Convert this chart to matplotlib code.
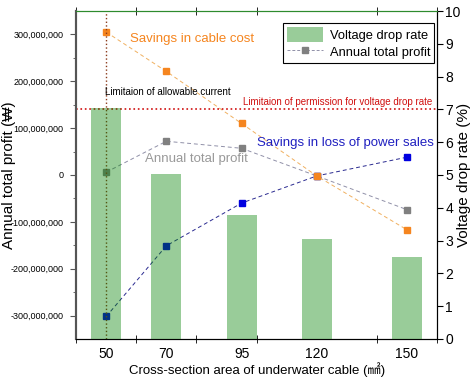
import matplotlib
matplotlib.use("Agg")
from matplotlib import pyplot as plt
from matplotlib.lines import Line2D
from matplotlib.patches import Patch

plt.rcParams['font.family'] = ['Liberation Sans', 'DejaVu Sans', 'Noto Sans CJK JP']

# data
sizes = [50, 70, 95, 120, 150]
size_labels = ["50", "70", "95", "120", "150"]
voltage_drop = [7.05, 5.03, 3.78, 3.05, 2.5]                  # %
cable_savings = [305e6, 221e6, 110e6, -2e6, -117e6]           # won
loss_savings = [-302e6, -151e6, -60e6, -2e6, 38e6]            # won
total_profit = [6e6, 72e6, 57e6, -2e6, -74e6]                 # won

orange = "#F5851F"
blue = "#0000E0"
gray = "#808080"

fig = plt.figure(figsize=(4.73, 3.8), dpi=100)
ax = fig.add_axes([0.161, 0.108, 0.763, 0.863])
ax2 = ax.twinx()

# profit lines (left axis), gray first so orange sits on top at 120
ax.plot(sizes, total_profit, ls=(0, (4, 3)), lw=0.7, color="#9090A8",
        marker="s", ms=4.5, mfc=gray, mec=gray)
ax.plot(sizes, loss_savings, ls=(0, (4, 3)), lw=0.7, color="#2A2A90",
        marker="s", ms=4.5, mfc=blue, mec=blue)
ax.plot(sizes, cable_savings, ls=(0, (4, 3)), lw=0.7, color="#F0B060",
        marker="s", ms=4.5, mfc=orange, mec=orange)

# limit lines
ax.axvline(50, color="#8B3A1A", ls=":", lw=1.0)
ax2.axhline(7, color="#D01010", ls=":", lw=1.2)

# voltage drop bars (right axis), semi transparent over the lines
ax2.bar(sizes, voltage_drop, width=10, color="green", alpha=0.4, zorder=3)

ax.set_xlim(40, 160)
ax.set_ylim(-350e6, 350e6)
ax2.set_ylim(0, 10)

ax.set_xticks(sizes)
ax.set_xticklabels(size_labels, fontsize=10)
ax.set_xticks([40, 60, 80, 100, 140, 160], minor=True)
ax.tick_params(axis="x", which="major", length=0, pad=6)
ax.tick_params(axis="x", which="minor", direction="inout", length=6, top=True)

yt = [-300e6, -200e6, -100e6, 0, 100e6, 200e6, 300e6]
ax.set_yticks(yt)
ax.set_yticklabels([f"{int(v):,}" for v in yt], fontsize=6.5)
ax.set_yticks([-250e6, -150e6, -50e6, 50e6, 150e6, 250e6], minor=True)
ax.tick_params(axis="y", which="major", length=4, pad=5, color="#555555")
ax.tick_params(axis="y", which="minor", length=2, color="#555555")

ax2.set_yticks(range(0, 11))
ax2.tick_params(axis="y", labelsize=10, length=4, pad=2)

ax.spines["top"].set_color("#2E8B2E")
ax2.spines["top"].set_color("#2E8B2E")
ax.spines["left"].set_color("#555555")
ax2.spines["left"].set_color("#555555")
ax.spines["left"].set_linewidth(1.5)
ax2.spines["left"].set_linewidth(1.5)

ax.set_xlabel("Cross-section area of underwater cable (\u339f)", fontsize=9.5, labelpad=1)
ax.set_ylabel("Annual total profit (\u20a9)", fontsize=11)
ax2.set_ylabel("Voltage drop rate (%)", fontsize=11)
ax.yaxis.set_label_coords(-0.167, 0.5)
ax2.yaxis.set_label_coords(1.055, 0.5)

# annotations
ax.text(57.9, 291e6, "Savings in cable cost", color=orange, fontsize=9.5, va="center")
ax.text(49.6, 177e6, "Limitaion of allowable current", color="black", fontsize=7, va="center")
ax.text(158.5, 155e6, "Limitaion of permission for voltage drop rate", color="#D01010",
        fontsize=7, va="center", ha="right")
ax.text(158.9, 68e6, "Savings in loss of power sales", color="#2020C0", fontsize=9.5,
        va="center", ha="right")
ax.text(62.8, 34e6, "Annual total profit", color="#999999", fontsize=9.5, va="center")

handles = [Patch(facecolor="green", alpha=0.4),
           Line2D([], [], ls=(0, (3, 2)), lw=0.7, color="#9090A8", marker="s", ms=4,
                  mfc=gray, mec=gray)]
leg = ax2.legend(handles, ["Voltage drop rate", "Annual total profit"], loc="upper right",
                 bbox_to_anchor=(0.992, 0.963), fontsize=9.3, fancybox=False,
                 edgecolor="black", framealpha=1, borderpad=0.3, handlelength=2.8,
                 handleheight=1.4, labelspacing=0.2, handletextpad=0.5, borderaxespad=0)
leg.get_frame().set_linewidth(0.8)
leg.set_zorder(5)

fig.savefig("out.png", dpi=100)
